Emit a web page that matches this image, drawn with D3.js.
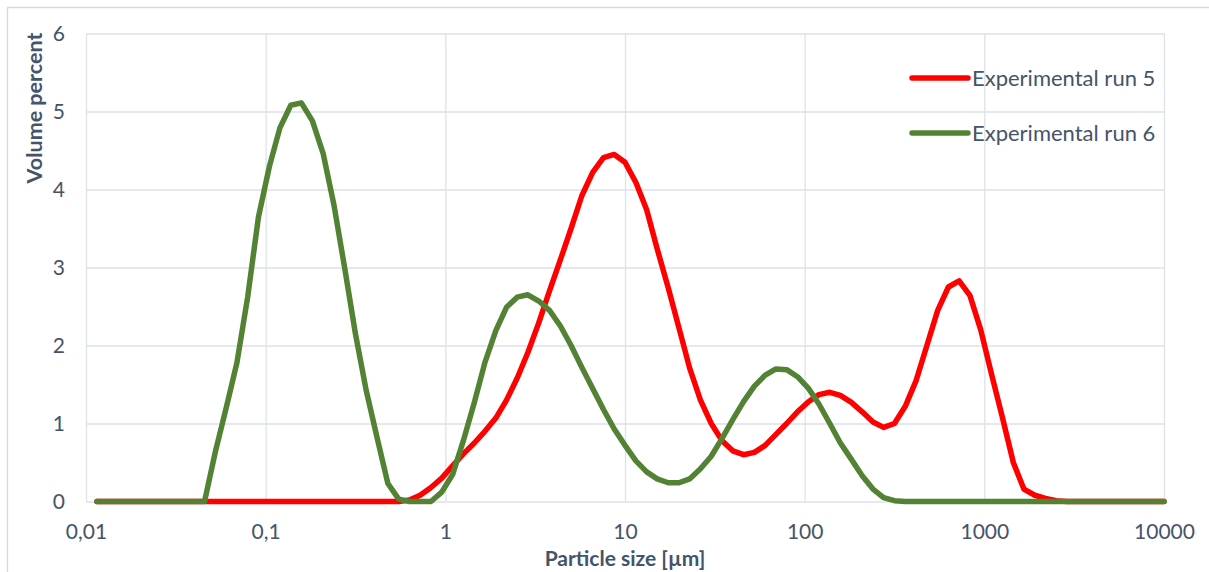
<!DOCTYPE html>
<html>
<head>
<meta charset="utf-8">
<script src="https://cdn.jsdelivr.net/npm/d3@7"></script>
<style>
    body { margin: 0; background: #fff; }
    .chart text { font-family: Lato, "Open Sans", sans-serif; fill: #44546a; }
    .grid line { stroke: #dde2ea; stroke-width: 1.3; }
    .grid .domain { display: none; }
</style>
</head>
<body>
<svg class="chart"></svg>
<script>
// particle size classes (µm)
const sizes = [
    0.0115, 0.0132, 0.0151, 0.0174, 0.0200, 0.0229, 0.0263, 0.0302, 0.0347, 0.0398,
    0.0457, 0.0525, 0.0603, 0.0692, 0.0794, 0.0912, 0.105, 0.120, 0.138, 0.158,
    0.182, 0.209, 0.240, 0.275, 0.316, 0.363, 0.417, 0.479, 0.550, 0.631,
    0.724, 0.832, 0.955, 1.10, 1.26, 1.45, 1.66, 1.91, 2.19, 2.51,
    2.88, 3.31, 3.80, 4.37, 5.01, 5.75, 6.61, 7.59, 8.71, 10.0,
    11.5, 13.2, 15.1, 17.4, 20.0, 22.9, 26.3, 30.2, 34.7, 39.8,
    45.7, 52.5, 60.3, 69.2, 79.4, 91.2, 105, 120, 138, 158,
    182, 209, 240, 275, 316, 363, 417, 479, 550, 631,
    724, 832, 955, 1100, 1260, 1450, 1660, 1910, 2190, 2510,
    2880, 3310, 3800, 4370, 5010, 5750, 6610, 7590, 8710, 10000
];

const run5 = [
    0, 0, 0, 0, 0, 0, 0, 0, 0, 0,
    0, 0, 0, 0, 0, 0, 0, 0, 0, 0,
    0, 0, 0, 0, 0, 0, 0, 0, 0, 0.02,
    0.08, 0.18, 0.30, 0.46, 0.61, 0.75, 0.90, 1.07, 1.30, 1.58,
    1.91, 2.29, 2.70, 3.10, 3.50, 3.92, 4.22, 4.41, 4.45, 4.35,
    4.09, 3.74, 3.24, 2.74, 2.22, 1.71, 1.30, 1.00, 0.78, 0.65,
    0.60, 0.63, 0.72, 0.86, 1.00, 1.15, 1.28, 1.37, 1.40, 1.36,
    1.27, 1.15, 1.02, 0.95, 1.00, 1.22, 1.55, 2.00, 2.45, 2.75,
    2.83, 2.64, 2.20, 1.62, 1.08, 0.50, 0.16, 0.08, 0.04, 0.01,
    0, 0, 0, 0, 0, 0, 0, 0, 0, 0
];

const run6 = [
    0, 0, 0, 0, 0, 0, 0, 0, 0, 0,
    0, 0.64, 1.20, 1.78, 2.62, 3.65, 4.30, 4.79, 5.08, 5.11,
    4.88, 4.46, 3.80, 3.00, 2.15, 1.42, 0.82, 0.23, 0.03, 0,
    0, 0, 0.12, 0.35, 0.78, 1.27, 1.78, 2.19, 2.49, 2.62,
    2.65, 2.57, 2.45, 2.25, 2.00, 1.72, 1.45, 1.18, 0.93, 0.72,
    0.52, 0.38, 0.29, 0.24, 0.24, 0.29, 0.42, 0.58, 0.81, 1.05,
    1.28, 1.48, 1.62, 1.70, 1.69, 1.60, 1.45, 1.25, 1.00, 0.75,
    0.54, 0.33, 0.16, 0.05, 0.01, 0, 0, 0, 0, 0,
    0, 0, 0, 0, 0, 0, 0, 0, 0, 0,
    0, 0, 0, 0, 0, 0, 0, 0, 0, 0
];

const seriesNames = ["Experimental run 5", "Experimental run 6"];
const seriesColors = ["#ff0000", "#548235"];
const xTicks = [0.01, 0.1, 1, 10, 100, 1000, 10000];
const xTickLabels = ["0,01", "0,1", "1", "10", "100", "1000", "10000"];
const yTicks = [0, 1, 2, 3, 4, 5, 6];

class SizeChart {
    constructor(el){
        this.width = 1209;
        this.height = 572;
        this.plot = {left: 86, right: 1164, top: 33.5, bottom: 501.5};
        this.svg = d3.select(el).attr("width", this.width).attr("height", this.height);
        this.x = d3.scaleLog().domain([0.01, 10000]).range([this.plot.left, this.plot.right]);
        this.y = d3.scaleLinear().domain([0, 6]).range([this.plot.bottom, this.plot.top]);
        this.drawFrame();
        this.drawGrid();
        this.drawAxes();
        this.drawLines();
        this.drawLegend();
    }

    drawFrame(){
        // chart area border (only top and left show up in the picture)
        this.svg.append("path")
            .attr("d", "M7.5," + this.height + "V7.5H" + this.width)
            .attr("fill", "none")
            .attr("stroke", "#d9d9d9")
            .attr("stroke-width", 1.3);
    }

    drawGrid(){
        const p = this.plot;
        this.svg.append("g")
            .attr("class", "grid")
            .attr("transform", "translate(0," + p.bottom + ")")
            .call(d3.axisBottom(this.x).tickValues(xTicks).tickSize(-(p.bottom - p.top)).tickFormat(""));
        this.svg.append("g")
            .attr("class", "grid")
            .attr("transform", "translate(" + p.left + ",0)")
            .call(d3.axisLeft(this.y).tickValues(yTicks).tickSize(-(p.right - p.left)).tickFormat(""));
    }

    drawAxes(){
        const p = this.plot;
        const xAxis = this.svg.append("g")
            .attr("transform", "translate(0," + p.bottom + ")")
            .call(d3.axisBottom(this.x).tickValues(xTicks).tickSize(0).tickPadding(23)
                .tickFormat((d, i) => xTickLabels[i]));
        const yAxis = this.svg.append("g")
            .attr("transform", "translate(" + p.left + ",0)")
            .call(d3.axisLeft(this.y).tickValues(yTicks).tickSize(0).tickPadding(21).tickFormat(d3.format("d")));
        [xAxis, yAxis].forEach((a) => {
            a.select(".domain").remove();
            a.selectAll("text").style("font-size", "21px").attr("font-family", null);
        });

        this.svg.append("text")
            .attr("x", (p.left + p.right) / 2)
            .attr("y", 566)
            .attr("text-anchor", "middle")
            .style("font-size", "21px")
            .style("font-weight", "bold")
            .text("Particle size [µm]");

        this.svg.append("text")
            .attr("transform", "translate(42,108) rotate(-90)")
            .attr("text-anchor", "middle")
            .style("font-size", "21.5px")
            .style("font-weight", "bold")
            .text("Volume percent");
    }

    drawLines(){
        const line = d3.line()
            .x((d) => this.x(d[0]))
            .y((d) => this.y(d[1]));
        [run5, run6].forEach((vals, i) => {
            this.svg.append("path")
                .datum(sizes.map((s, j) => [s, vals[j]]))
                .attr("fill", "none")
                .attr("stroke", seriesColors[i])
                .attr("stroke-width", 5.5)
                .attr("stroke-linejoin", "round")
                .attr("stroke-linecap", "round")
                .attr("d", line);
        });
    }

    drawLegend(){
        const items = this.svg.append("g").selectAll("g")
            .data(seriesNames)
            .enter().append("g")
                .attr("transform", (d, i) => "translate(912," + (78 + i * 55) + ")");
        items.append("line")
            .attr("x1", 0).attr("x2", 56)
            .attr("stroke", (d, i) => seriesColors[i])
            .attr("stroke-width", 5.5)
            .attr("stroke-linecap", "round");
        items.append("text")
            .attr("x", 60)
            .attr("dy", "0.35em")
            .style("font-size", "22px")
            .text((d) => d);
    }
}

new SizeChart(document.querySelector(".chart"));
</script>
</body>
</html>
